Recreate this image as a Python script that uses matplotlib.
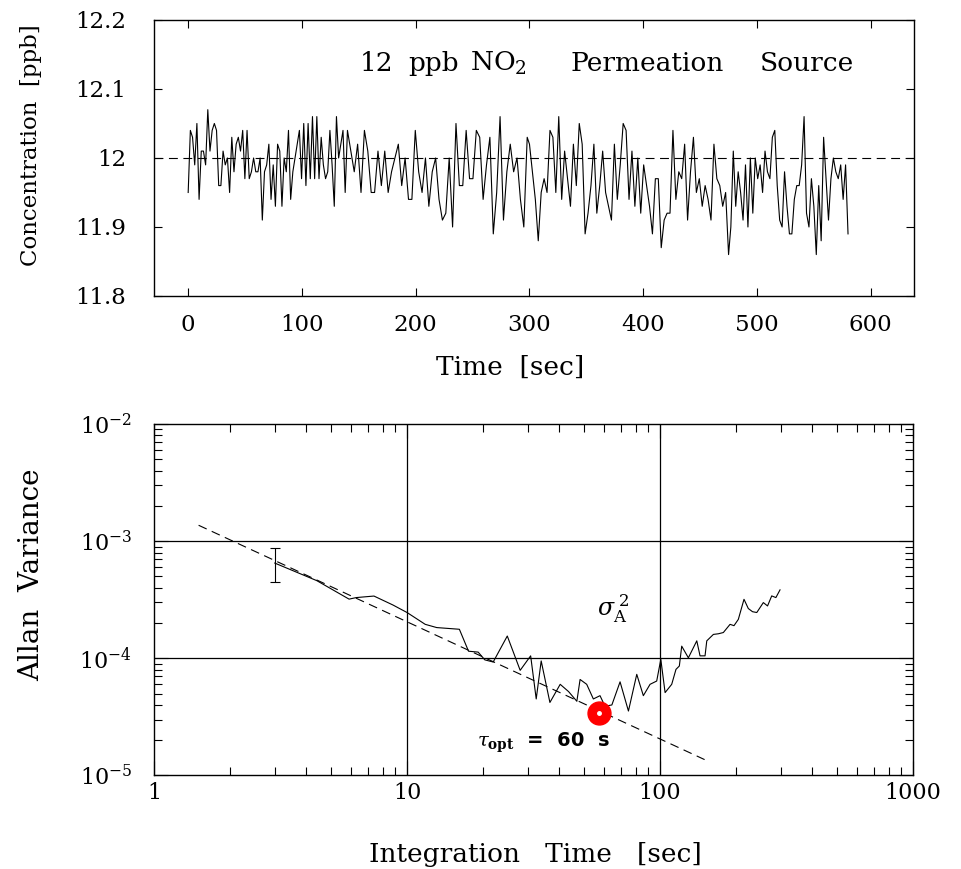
import numpy as np
import matplotlib.pyplot as plt
from matplotlib.ticker import LogLocator, NullFormatter, FixedLocator, FixedFormatter

plt.rcParams['font.family'] = ['DejaVu Serif']
plt.rcParams['mathtext.fontset'] = 'dejavuserif'

# --- top panel: NO2 concentration time series in four stretches
seg_start = [0, 140, 300, 477]
seg_end = [138, 298, 475, 580]
conc_a = [11.95, 12.04, 12.03, 11.99, 12.05, 11.94, 12.01, 12.01, 11.99, 12.07,
          12.01, 12.04, 12.05, 12.04, 11.96, 11.96, 12.01, 11.99, 12.00, 11.95,
          12.03, 11.98, 12.02, 12.03, 12.01, 12.04, 11.97, 12.04, 11.97, 11.98,
          12.00, 11.98, 11.98, 12.00, 11.91, 11.98, 11.99, 12.02, 11.94, 11.99,
          11.93, 12.02, 12.01, 11.93, 12.00, 11.98, 12.04, 11.94, 11.98, 12.00,
          12.02, 12.04, 11.97, 12.05, 11.96, 12.05, 11.97, 12.06, 11.97, 12.06,
          11.97, 12.03, 11.99, 11.97, 11.98, 12.04, 11.99, 11.93, 12.06, 12.00,
          12.02, 12.04, 11.95]
conc_b = [12.04, 12.01, 11.98, 12.02, 11.95, 12.04, 12.01, 11.95, 11.95, 12.01,
          11.96, 12.01, 11.95, 11.98, 12.00, 12.02, 11.96, 12.00, 11.94, 11.94,
          12.04, 11.98, 11.95, 12.00, 11.93, 11.98, 12.00, 11.94, 11.91, 11.92,
          12.00, 11.90, 12.05, 11.96, 11.96, 12.04, 11.97, 11.97, 12.04, 12.03,
          11.94, 11.99, 12.03, 11.89, 11.95, 12.06, 11.91, 11.98, 12.02, 11.98,
          12.00, 11.94, 11.90, 12.03]
conc_c = [12.02, 11.98, 11.94, 11.88, 11.95, 11.97, 11.95, 12.04, 12.03, 11.95,
          12.06, 11.94, 12.01, 11.97, 11.93, 12.02, 11.96, 12.05, 12.02, 11.89,
          11.92, 11.96, 12.02, 11.92, 11.96, 12.01, 11.95, 11.93, 11.91, 12.02,
          11.94, 11.99, 12.05, 12.04, 11.94, 12.01, 11.93, 12.00, 11.92, 11.99,
          11.96, 11.93, 11.89, 11.97, 11.97, 11.87, 11.91, 11.92, 11.92, 12.04,
          11.94, 11.98, 11.97, 12.02, 11.91, 11.98, 12.03, 11.95, 11.97, 11.93,
          11.96, 11.94, 11.91, 12.02, 11.97, 11.96, 11.93, 11.95, 11.86]
conc_d = [11.90, 12.01, 11.93, 11.98, 11.95, 11.91, 11.99, 11.90, 12.00, 11.92,
          12.00, 11.97, 11.99, 11.95, 12.01, 11.98, 11.97, 12.03, 12.04, 11.96,
          11.91, 11.90, 11.98, 11.93, 11.89, 11.89, 11.94, 11.96, 11.96, 11.99,
          12.06, 11.92, 11.90, 11.97, 11.93, 11.86, 11.96, 11.88, 12.03, 11.97,
          11.91, 11.97, 12.00, 11.98, 11.97, 11.99, 11.94, 11.99, 11.89]
mean_conc = 12.0

# --- bottom panel: Allan variance
tau = [3.0, 4.4, 5.9, 6.3, 7.4, 8.8, 10.0, 11.8, 13.1, 16.1, 17.5, 19.1, 20.3, 21.9,
       23.3, 24.9, 28.0, 30.8, 32.4, 33.9, 36.7, 40.3, 43.5, 46.9, 48.3, 51.3, 54.5,
       57.9, 60.6, 64.5, 69.5, 75.0, 80.9, 85.9, 91.3, 97.0, 100.7, 104.7, 111.2,
       115.6, 119.2, 121.8, 129.4, 139.7, 143.9, 150.6, 153.0, 162.5, 170.0, 177.9,
       189.1, 196.0, 203.9, 214.7, 223.3, 232.0, 241.2, 256.0, 266.0, 276.3, 287.0, 298.0]
avar = [6.5e-4, 4.6e-4, 3.2e-4, 3.3e-4, 3.4e-4, 2.85e-4, 2.46e-4, 1.95e-4, 1.83e-4,
        1.77e-4, 1.15e-4, 1.13e-4, 9.7e-5, 9.3e-5, 1.19e-4, 1.55e-4, 7.9e-5, 1.05e-4,
        4.5e-5, 9.5e-5, 4.2e-5, 6.0e-5, 5.2e-5, 4.3e-5, 6.6e-5, 6.0e-5, 4.5e-5, 4.8e-5,
        3.9e-5, 4.0e-5, 6.3e-5, 3.55e-5, 7.3e-5, 4.8e-5, 6.0e-5, 6.4e-5, 9.8e-5, 5.1e-5,
        6.0e-5, 8.05e-5, 8.6e-5, 1.27e-4, 1.01e-4, 1.41e-4, 1.05e-4, 1.05e-4, 1.41e-4,
        1.60e-4, 1.62e-4, 1.66e-4, 1.95e-4, 1.9e-4, 2.15e-4, 3.19e-4, 2.66e-4, 2.5e-4,
        2.46e-4, 2.99e-4, 2.8e-4, 3.41e-4, 3.3e-4, 3.84e-4]
err_tau = 3.0
err_low = 4.5e-4
err_high = 8.7e-4
fit_tau = [1.5, 150.0]
fit_coef = 2.05e-3
opt_tau = 57.5
opt_var = 3.43e-5

fig = plt.figure(figsize=(9.61, 8.69), dpi=100)
ax1 = fig.add_axes([0.1603, 0.6594, 0.7908, 0.3176])
ax2 = fig.add_axes([0.1603, 0.1076, 0.7898, 0.4045])

# top
t_all, c_all = [], []
for a, b, seg in zip(seg_start, seg_end, [conc_a, conc_b, conc_c, conc_d]):
    t_all.append(np.linspace(a, b, len(seg)))
    c_all.append(seg)
t_all = np.concatenate(t_all)
c_all = np.concatenate(c_all)

ax1.plot(t_all, c_all, color='k', lw=0.8)
ax1.axhline(mean_conc, color='k', lw=0.8, ls=(0, (8, 5)))
ax1.set_xlim(-30, 638)
ax1.set_ylim(11.8, 12.2)
ax1.set_xticks(range(0, 700, 100))
ax1.set_yticks([11.8, 11.9, 12.0, 12.1, 12.2])
ax1.set_yticklabels(['11.8', '11.9', '12', '12.1', '12.2'])
ax1.tick_params(direction='in', top=True, right=True, length=6, width=0.8,
                labelsize=16.5)
ax1.tick_params(axis='x', pad=13)
ax1.tick_params(axis='y', pad=20)
for s in ax1.spines.values():
    s.set_linewidth(1.0)
ax1.set_xlabel('Time  [sec]', fontsize=19)
ax1.xaxis.set_label_coords(0.468, -0.214)
ax1.set_ylabel('Concentration  [ppb]', fontsize=16.5)
ax1.yaxis.set_label_coords(-0.148, 0.547)
title_words = ['12', 'ppb', r'NO$_2$', 'Permeation', 'Source']
title_x = [0.271, 0.335, 0.416, 0.548, 0.797]
for w, x in zip(title_words, title_x):
    ax1.text(x, 0.844, w, transform=ax1.transAxes, fontsize=19, va='center', ha='left')

# bottom
ax2.set_xscale('log')
ax2.set_yscale('log')
ax2.set_xlim(1, 1000)
ax2.set_ylim(1e-5, 1e-2)
for v in [1e-3, 1e-4]:
    ax2.axhline(v, color='k', lw=0.9)
for v in [10, 100]:
    ax2.axvline(v, color='k', lw=0.9)
ft = np.array(fit_tau)
ax2.plot(ft, fit_coef / ft, color='k', lw=0.8, ls=(0, (8, 5)))
ax2.plot(tau, avar, color='k', lw=0.8)
ax2.errorbar([err_tau], [avar[0]], yerr=[[avar[0] - err_low], [err_high - avar[0]]],
             color='k', lw=0.8, capsize=3.5, capthick=0.8, fmt='none')
ax2.plot([opt_tau], [opt_var], 'o', color='red', ms=16.5, mec='red')
ax2.plot([opt_tau], [opt_var], 'o', color='white', ms=2.5, mec='white')

ax2.xaxis.set_major_locator(FixedLocator([1, 10, 100, 1000]))
ax2.xaxis.set_major_formatter(FixedFormatter(['1', '10', '100', '1000']))
ax2.yaxis.set_major_locator(FixedLocator([1e-5, 1e-4, 1e-3, 1e-2]))
ax2.yaxis.set_major_formatter(FixedFormatter([r'$10^{-5}$', r'$10^{-4}$',
                                              r'$10^{-3}$', r'$10^{-2}$']))
ax2.xaxis.set_minor_locator(LogLocator(base=10, subs=np.arange(2, 10), numticks=20))
ax2.yaxis.set_minor_locator(LogLocator(base=10, subs=np.arange(2, 10), numticks=20))
ax2.xaxis.set_minor_formatter(NullFormatter())
ax2.yaxis.set_minor_formatter(NullFormatter())
ax2.tick_params(which='both', direction='in', top=True, right=True, width=0.8,
                labelsize=16)
ax2.tick_params(which='major', length=10)
ax2.tick_params(which='minor', length=6)
ax2.tick_params(axis='x', pad=5)
ax2.tick_params(axis='y', pad=16)
for s in ax2.spines.values():
    s.set_linewidth(1.0)
ax2.set_xlabel('Integration   Time   [sec]', fontsize=19)
ax2.xaxis.set_label_coords(0.502, -0.19)
ax2.set_ylabel('Allan  Variance', fontsize=20)
ax2.yaxis.set_label_coords(-0.143, 0.57)
ax2.text(56.4, 2.62e-4, r'$\sigma_{\mathrm{A}}^{\;2}$', fontsize=17, va='center', ha='left')
ax2.text(18.9, 1.91e-5, r'$\tau_{\mathbf{opt}}$  =  60  s', fontsize=14,
         va='center', ha='left', family='DejaVu Sans', fontweight='bold')

fig.savefig('out.png', dpi=100)
